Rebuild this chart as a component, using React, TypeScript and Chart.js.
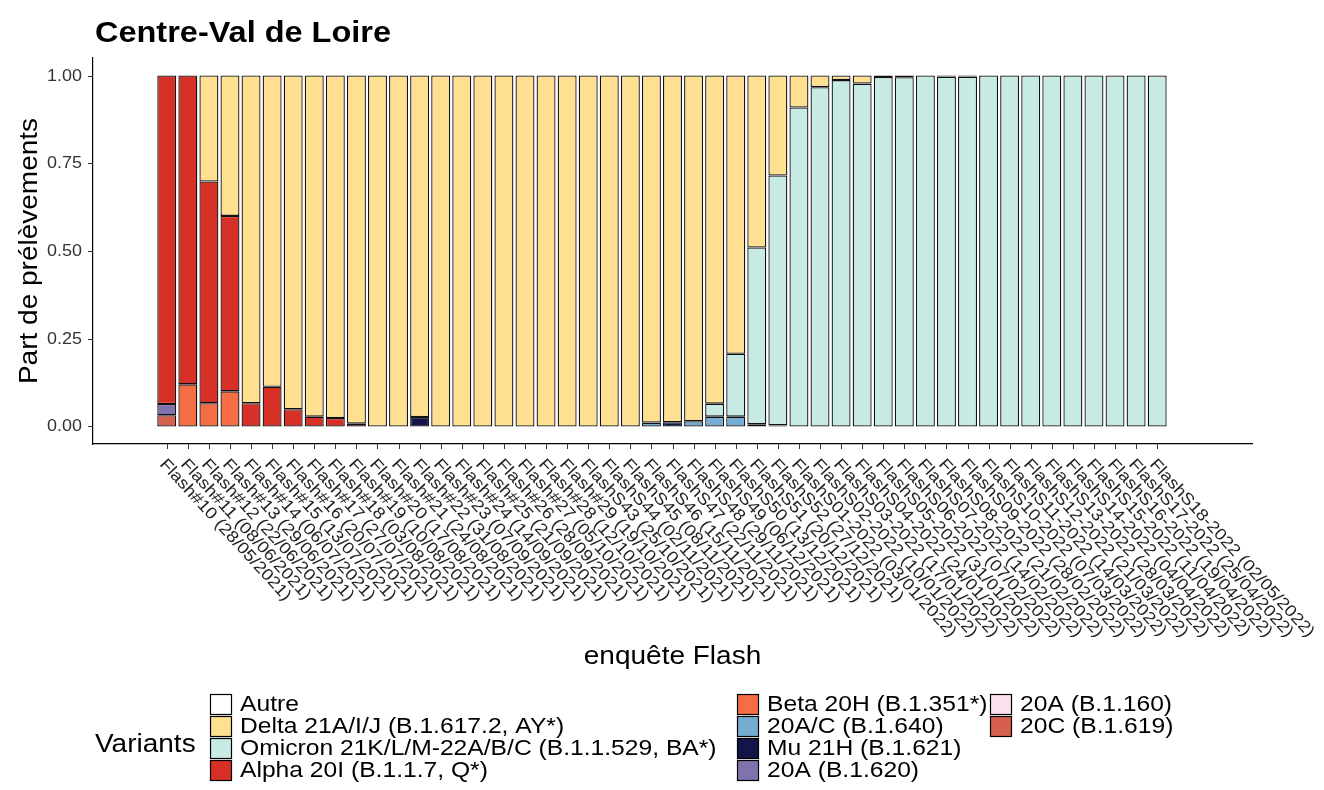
import React, { useEffect, useRef } from "react";
import { Chart, registerables } from "chart.js";

Chart.register(...registerables);

// ---------- data ----------
const enquetes: string[] = [
  "Flash#10 (28/05/2021)", "Flash#11 (08/06/2021)", "Flash#12 (22/06/2021)", "Flash#13 (29/06/2021)",
  "Flash#14 (06/07/2021)", "Flash#15 (13/07/2021)", "Flash#16 (20/07/2021)", "Flash#17 (27/07/2021)",
  "Flash#18 (03/08/2021)", "Flash#19 (10/08/2021)", "Flash#20 (17/08/2021)", "Flash#21 (24/08/2021)",
  "Flash#22 (31/08/2021)", "Flash#23 (07/09/2021)", "Flash#24 (14/09/2021)", "Flash#25 (21/09/2021)",
  "Flash#26 (28/09/2021)", "Flash#27 (05/10/2021)", "Flash#28 (12/10/2021)", "Flash#29 (19/10/2021)",
  "FlashS43 (25/10/2021)", "FlashS44 (02/11/2021)", "FlashS45 (08/11/2021)", "FlashS46 (15/11/2021)",
  "FlashS47 (22/11/2021)", "FlashS48 (29/11/2021)", "FlashS49 (06/12/2021)", "FlashS50 (13/12/2021)",
  "FlashS51 (20/12/2021)", "FlashS52 (27/12/2021)",
  "FlashS01-2022 (03/01/2022)", "FlashS02-2022 (10/01/2022)", "FlashS03-2022 (17/01/2022)",
  "FlashS04-2022 (24/01/2022)", "FlashS05-2022 (31/01/2022)", "FlashS06-2022 (07/02/2022)",
  "FlashS07-2022 (14/02/2022)", "FlashS08-2022 (21/02/2022)", "FlashS09-2022 (28/02/2022)",
  "FlashS10-2022 (07/03/2022)", "FlashS11-2022 (14/03/2022)", "FlashS12-2022 (21/03/2022)",
  "FlashS13-2022 (28/03/2022)", "FlashS14-2022 (04/04/2022)", "FlashS15-2022 (11/04/2022)",
  "FlashS16-2022 (19/04/2022)", "FlashS17-2022 (25/04/2022)", "FlashS18-2022 (02/05/2022)",
];

const autre: number[] = [
  0, 0, 0, 0, 0, 0, 0, 0, 0, 0, 0, 0, 0, 0, 0, 0, 0, 0, 0, 0, 0, 0, 0, 0,
  0, 0, 0, 0, 0, 0, 0, 0, 0, 0, 0, 0, 0, 0, 0, 0, 0, 0, 0, 0, 0, 0, 0, 0,
];
const delta: number[] = [
  0, 0, 0.302, 0.4, 0.934, 0.887, 0.951, 0.972, 0.976, 0.992, 1, 1,
  0.973, 1, 1, 1, 1, 1, 1, 1, 1, 1, 1, 0.989,
  0.988, 0.985, 0.935, 0.793, 0.49, 0.285, 0.091, 0.033, 0.013, 0.023, 0.004, 0.005,
  0, 0.003, 0.003, 0, 0, 0, 0, 0, 0, 0, 0, 0,
];
const omicron: number[] = [
  0, 0, 0, 0, 0, 0, 0, 0, 0, 0, 0, 0, 0, 0, 0, 0, 0, 0, 0, 0, 0, 0, 0, 0,
  0, 0, 0.037, 0.179, 0.504, 0.712, 0.909, 0.967, 0.987, 0.977, 0.996, 0.995,
  1, 0.997, 0.997, 1, 1, 1, 1, 1, 1, 1, 1, 1,
];
const alpha: number[] = [
  0.936, 0.88, 0.632, 0.5, 0.066, 0.113, 0.049, 0.028, 0.024, 0.008, 0, 0,
  0, 0, 0, 0, 0, 0, 0, 0, 0, 0, 0, 0, 0, 0, 0, 0, 0, 0, 0, 0, 0, 0, 0, 0,
  0, 0, 0, 0, 0, 0, 0, 0, 0, 0, 0, 0,
];
const beta: number[] = [
  0, 0.12, 0.066, 0.1, 0, 0, 0, 0, 0, 0, 0, 0, 0, 0, 0, 0, 0, 0, 0, 0, 0, 0, 0, 0,
  0, 0, 0, 0, 0, 0, 0, 0, 0, 0, 0, 0, 0, 0, 0, 0, 0, 0, 0, 0, 0, 0, 0, 0,
];
const b1640: number[] = [
  0, 0, 0, 0, 0, 0, 0, 0, 0, 0, 0, 0, 0, 0, 0, 0, 0, 0, 0, 0, 0, 0, 0, 0.011,
  0, 0.015, 0.028, 0.028, 0.006, 0.003, 0, 0, 0, 0, 0, 0, 0, 0, 0, 0, 0, 0, 0, 0, 0, 0, 0, 0,
];
const mu: number[] = [
  0, 0, 0, 0, 0, 0, 0, 0, 0, 0, 0, 0, 0.027, 0, 0, 0, 0, 0, 0, 0, 0, 0, 0, 0,
  0.012, 0, 0, 0, 0, 0, 0, 0, 0, 0, 0, 0, 0, 0, 0, 0, 0, 0, 0, 0, 0, 0, 0, 0,
];
const b1620: number[] = [
  0.032, 0, 0, 0, 0, 0, 0, 0, 0, 0, 0, 0, 0, 0, 0, 0, 0, 0, 0, 0, 0, 0, 0, 0,
  0, 0, 0, 0, 0, 0, 0, 0, 0, 0, 0, 0, 0, 0, 0, 0, 0, 0, 0, 0, 0, 0, 0, 0,
];
const b1160: number[] = [
  0, 0, 0, 0, 0, 0, 0, 0, 0, 0, 0, 0, 0, 0, 0, 0, 0, 0, 0, 0, 0, 0, 0, 0,
  0, 0, 0, 0, 0, 0, 0, 0, 0, 0, 0, 0, 0, 0, 0, 0, 0, 0, 0, 0, 0, 0, 0, 0,
];
const b1619: number[] = [
  0.032, 0, 0, 0, 0, 0, 0, 0, 0, 0, 0, 0, 0, 0, 0, 0, 0, 0, 0, 0, 0, 0, 0, 0,
  0, 0, 0, 0, 0, 0, 0, 0, 0, 0, 0, 0, 0, 0, 0, 0, 0, 0, 0, 0, 0, 0, 0, 0,
];

// legend order (as shown in the reference)
const variantNames: string[] = [
  "Autre",
  "Delta 21A/I/J (B.1.617.2, AY*)",
  "Omicron 21K/L/M-22A/B/C (B.1.1.529, BA*)",
  "Alpha 20I (B.1.1.7, Q*)",
  "Beta 20H (B.1.351*)",
  "20A/C (B.1.640)",
  "Mu 21H (B.1.621)",
  "20A (B.1.620)",
  "20A (B.1.160)",
  "20C (B.1.619)",
];
const variantColors: string[] = [
  "#ffffff", "#fee090", "#c7eae5", "#d73027", "#f46d43",
  "#74add1", "#131548", "#8073ac", "#fde0ef", "#d6604d",
];
const variantValues: number[][] = [autre, delta, omicron, alpha, beta, b1640, mu, b1620, b1160, b1619];

const yTicks: number[] = [0, 0.25, 0.5, 0.75, 1];

// ---------- styling ----------
const FONT = '"Liberation Sans", Arial, Helvetica, sans-serif';
const SX = 1.12; // horizontal glyph stretch to mimic the wider reference font
const LABEL_ANGLE = (47.5 * Math.PI) / 180;

function txt(
  ctx: CanvasRenderingContext2D,
  s: string,
  x: number,
  y: number,
  font: string,
  align: CanvasTextAlign,
  baseline: CanvasTextBaseline,
  rot = 0,
  color = "#000"
) {
  ctx.save();
  ctx.translate(x, y);
  if (rot) ctx.rotate(rot);
  ctx.scale(SX, 1);
  ctx.font = font;
  ctx.fillStyle = color;
  ctx.textAlign = align;
  ctx.textBaseline = baseline;
  ctx.fillText(s, 0, 0);
  ctx.restore();
}

const decorations = {
  id: "decorations",
  afterDraw(chart: any) {
    const ctx: CanvasRenderingContext2D = chart.ctx;
    const xs = chart.scales.x;
    const ys = chart.scales.y;
    const area = chart.chartArea;

    // title
    txt(ctx, "Centre-Val de Loire", 95, 42, `bold 29px ${FONT}`, "left", "alphabetic");

    // y ticks
    ctx.save();
    ctx.strokeStyle = "#333";
    ctx.lineWidth = 1;
    for (const v of yTicks) {
      const py = Math.round(ys.getPixelForValue(v)) + 0.5;
      ctx.beginPath();
      ctx.moveTo(area.left - 5, py);
      ctx.lineTo(area.left, py);
      ctx.stroke();
      txt(ctx, v.toFixed(2), area.left - 11, py, `16px ${FONT}`, "right", "middle", 0, "#333");
    }
    ctx.restore();

    // y title
    txt(ctx, "Part de prélèvements", 30, (area.top + area.bottom) / 2, `25px ${FONT}`, "center", "middle", -Math.PI / 2);

    // x ticks + rotated labels
    ctx.save();
    ctx.strokeStyle = "#333";
    ctx.lineWidth = 1;
    enquetes.forEach((lab, i) => {
      const px = Math.round(xs.getPixelForValue(i)) + 0.5;
      ctx.beginPath();
      ctx.moveTo(px, area.bottom);
      ctx.lineTo(px, area.bottom + 5);
      ctx.stroke();
      txt(ctx, lab, px + 1, area.bottom + 12, `16.5px ${FONT}`, "left", "top", LABEL_ANGLE, "#222");
    });
    ctx.restore();

    // x title
    txt(ctx, "enquête Flash", (area.left + area.right) / 2, 657, `25px ${FONT}`, "center", "middle");

    // legend
    txt(ctx, "Variants", 95, 745, `25px ${FONT}`, "left", "middle");
    const colX = [210, 737, 990];
    const rowY = [694, 716, 738, 760];
    variantNames.forEach((name, i) => {
      const col = i < 4 ? 0 : i < 8 ? 1 : 2;
      const row = i < 4 ? i : i < 8 ? i - 4 : i - 8;
      const kx = colX[col];
      const ky = rowY[row];
      ctx.save();
      ctx.fillStyle = variantColors[i];
      ctx.fillRect(kx, ky, 22, 21);
      ctx.strokeStyle = "#000";
      ctx.lineWidth = 1.2;
      ctx.strokeRect(kx + 0.5, ky + 0.5, 21, 20);
      ctx.restore();
      txt(ctx, name, kx + 30, ky + 11, `22px ${FONT}`, "left", "middle");
    });
  },
};

// bottom -> top stacking order (ggplot stacks first level on top)
const stackOrder = [9, 8, 7, 6, 5, 4, 3, 2, 1, 0];

export default function App() {
  const ref = useRef<HTMLCanvasElement>(null);

  useEffect(() => {
    const canvas = ref.current;
    if (!canvas) return;
    const datasets = stackOrder.map((k) => ({
      label: variantNames[k],
      data: variantValues[k].map((v, i) => ({ x: i, y: v })),
      backgroundColor: variantColors[k],
      borderColor: "#111111",
      borderWidth: 1.3,
      borderSkipped: false as any,
      barPercentage: 0.9,
      categoryPercentage: 1,
    }));
    const chart = new Chart(canvas, {
      type: "bar",
      data: { datasets: datasets as any },
      options: {
        responsive: false,
        animation: false,
        devicePixelRatio: 1,
        layout: { padding: { top: 58, right: 72, bottom: 0, left: 0 } },
        plugins: {
          legend: { display: false },
          title: { display: false },
          tooltip: { enabled: false },
        },
        scales: {
          x: {
            type: "linear",
            min: -3.5,
            max: 51.5,
            offset: false,
            stacked: true,
            grid: { display: false },
            ticks: { display: false },
            border: { display: true, color: "#000", width: 1.2 },
            afterFit: (s: any) => {
              s.height = 346;
            },
          },
          y: {
            stacked: true,
            min: -0.05,
            max: 1.05,
            grid: { display: false },
            ticks: { display: false },
            border: { display: true, color: "#000", width: 1.2 },
            afterFit: (s: any) => {
              s.width = 93;
            },
          },
        },
      } as any,
      plugins: [decorations],
    });
    return () => chart.destroy();
  }, []);

  return (
    <div style={{ position: "fixed", left: 0, top: 0, width: 1324, height: 790, background: "#fff" }}>
      <canvas ref={ref} width={1324} height={790} style={{ width: 1324, height: 790, display: "block" }} />
    </div>
  );
}
